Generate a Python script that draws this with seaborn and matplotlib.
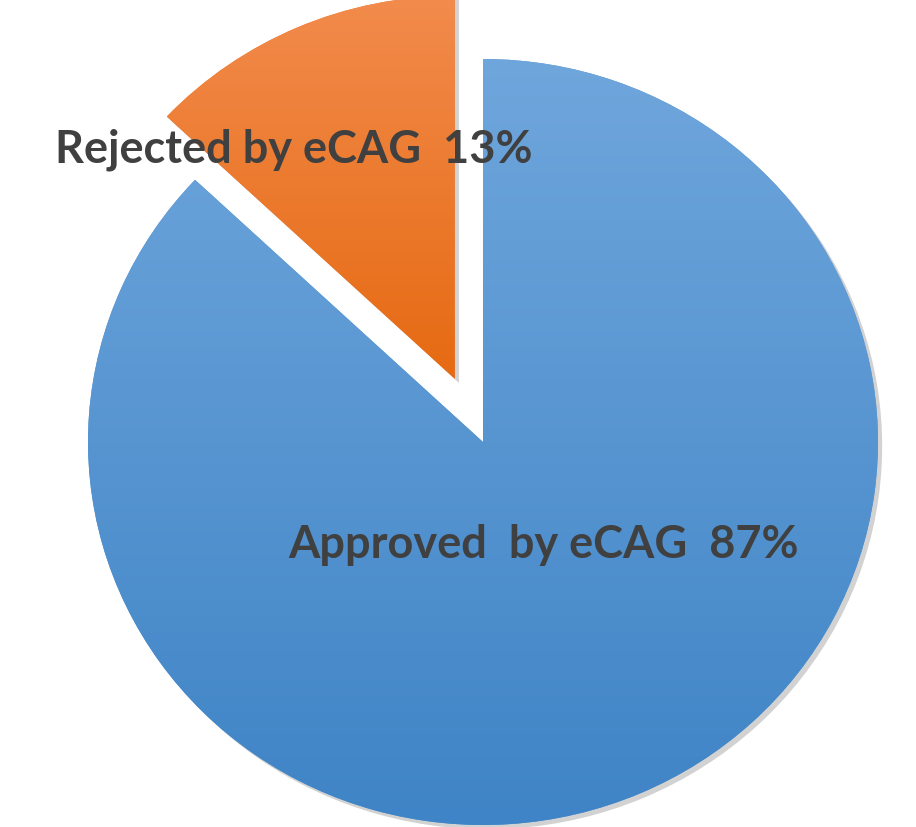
"""Pie chart of eCAG decisions: approved vs rejected share."""

import matplotlib

matplotlib.use("Agg")
import matplotlib.pyplot as plt
import matplotlib.patheffects as pe
import numpy as np
import seaborn as sns
from matplotlib.colors import LinearSegmentedColormap
from matplotlib.transforms import IdentityTransform

categories = ["Approved  by eCAG", "Rejected by eCAG"]
shares = [87, 13]
explode = [0.0, 0.18]
top_colors = ["#6fa6dc", "#f28b4c"]
bottom_colors = ["#3f84c6", "#e66a12"]

sns.set_theme(style="white")
plt.rcParams["font.family"] = ["Lato", "DejaVu Sans"]

W, H = 916, 828
sy = 383 / 395  # the reference pie is slightly squashed vertically
radius = 395
center = (483, (H - 443) / sy)

fig = plt.figure(figsize=(W / 100, H / 100), dpi=100)
ax = fig.add_axes([0, 0, 1, 1])

wedges, _ = ax.pie(
    shares,
    explode=[e * radius for e in explode],
    startangle=90,
    counterclock=False,
    radius=radius,
    center=center,
    colors=[sns.blend_palette([t, b], 3)[1] for t, b in zip(top_colors, bottom_colors)],
    wedgeprops={"linewidth": 0},
    frame=True,
)

# vertical gradient fill for each slice, clipped to the slice shape
for wedge, top, bottom in zip(wedges, top_colors, bottom_colors):
    wedge.set_path_effects(
        [pe.SimplePatchShadow(offset=(3, -3), shadow_rgbFace="#7f7f7f", alpha=0.35), pe.Normal()]
    )
    x0, y0, x1, y1 = wedge.get_path().transformed(wedge.get_patch_transform()).get_extents().extents
    cmap = LinearSegmentedColormap.from_list("grad", [bottom, top])
    grad = np.linspace(0, 1, 256).reshape(-1, 1)
    img = ax.imshow(
        grad,
        cmap=cmap,
        origin="lower",
        extent=[x0, x1, y0, y1],
        zorder=wedge.get_zorder() + 0.1,
    )
    img.set_clip_path(wedge)

ax.set_aspect("auto")
ax.set_xlim(0, W)
ax.set_ylim(0, H / sy)
ax.axis("off")

label_style = dict(
    fontsize=32.5, fontweight="bold", color="#404040", va="center", ha="left",
    zorder=5, transform=IdentityTransform(),
)
ax.text(288, H - 545, f"{categories[0]}  {shares[0]}%", **label_style)
ax.text(55, H - 150, f"{categories[1]}  {shares[1]}%", **label_style)

fig.savefig("out.png", dpi=100)
